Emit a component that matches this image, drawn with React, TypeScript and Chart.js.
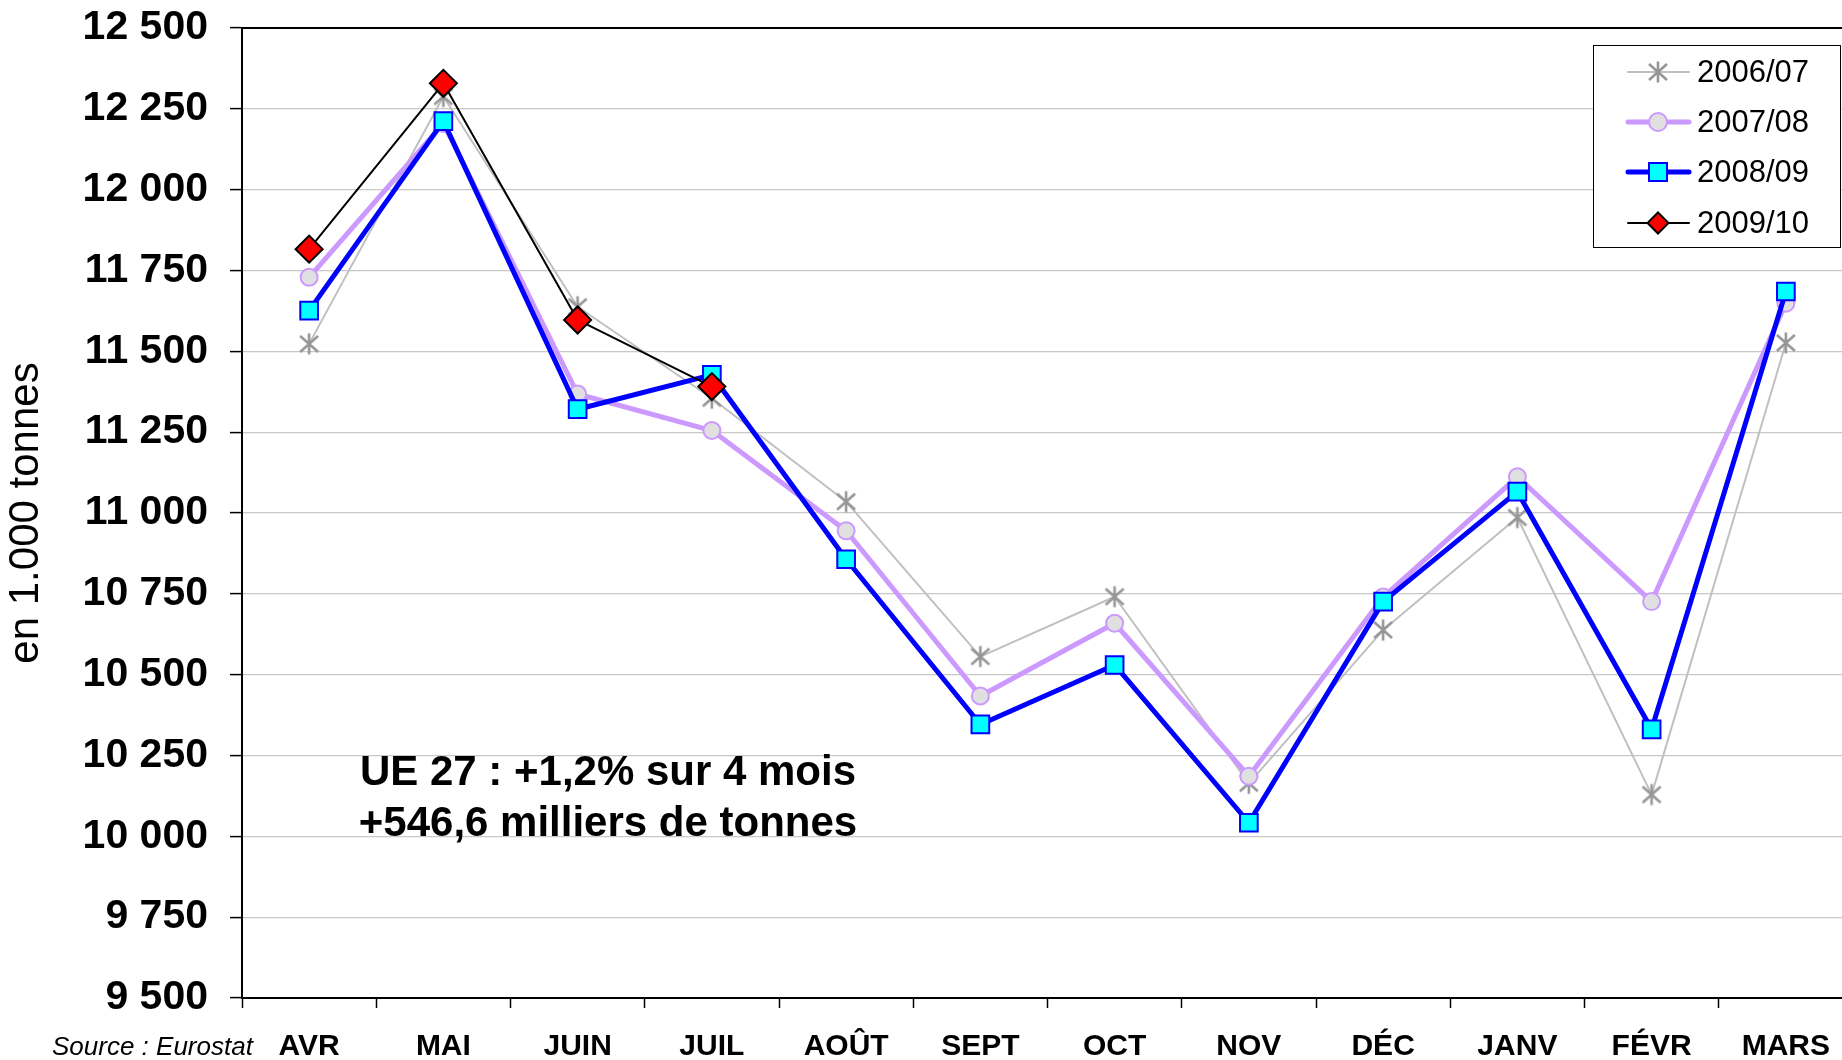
import React, { useEffect, useRef } from 'react';
import { Chart, registerables } from 'chart.js';

Chart.register(...registerables);

const months = ['AVR', 'MAI', 'JUIN', 'JUIL', 'AOÛT', 'SEPT', 'OCT', 'NOV', 'DÉC', 'JANV', 'FÉVR', 'MARS'];
const seriesNames = ['2006/07', '2007/08', '2008/09', '2009/10'];
const s2006 = [11523, 12288, 11638, 11355, 11035, 10556, 10741, 10164, 10638, 10986, 10129, 11526];
const s2007 = [11729, 12205, 11368, 11255, 10945, 10434, 10659, 10186, 10740, 11112, 10726, 11649];
const s2008 = [11626, 12212, 11321, 11427, 10857, 10346, 10530, 10042, 10726, 11066, 10331, 11685];
const s2009 = [11816, 12329, 11597, 11391, null, null, null, null, null, null, null, null];
const yMin = 9500;
const yMax = 12500;
const yStep = 250;
const noteLines = ['UE 27 : +1,2% sur 4 mois', '+546,6 milliers de tonnes'];
const sourceText = 'Source : Eurostat';
const yTitle = 'en 1.000 tonnes';

const FONT = '"Liberation Sans", Arial, Helvetica, sans-serif';

function makeAsterisk(): HTMLCanvasElement {
  const c = document.createElement('canvas');
  c.width = 24;
  c.height = 24;
  const g = c.getContext('2d')!;
  g.strokeStyle = '#969696';
  g.lineWidth = 2.6;
  g.beginPath();
  g.moveTo(12, 1.5);
  g.lineTo(12, 22.5);
  g.moveTo(3, 4);
  g.lineTo(21, 20);
  g.moveTo(3, 20);
  g.lineTo(21, 4);
  g.stroke();
  return c;
}

function fmt(v: number): string {
  return String(v).replace(/\B(?=(\d{3})+(?!\d))/g, ' ');
}

function zeroPad(scale: any) {
  scale.paddingTop = 0;
  scale.paddingBottom = 0;
  scale.paddingLeft = 0;
  scale.paddingRight = 0;
}

export default function App() {
  const ref = useRef<HTMLCanvasElement>(null);

  useEffect(() => {
    const canvas = ref.current!;
    const star = makeAsterisk();

    const overlay = {
      id: 'overlay',
      afterDraw(chart: any) {
        const ctx: CanvasRenderingContext2D = chart.ctx;
        const a = chart.chartArea;
        ctx.save();
        // top border of plot area
        ctx.strokeStyle = '#000';
        ctx.lineWidth = 2;
        ctx.beginPath();
        ctx.moveTo(a.left, a.top);
        ctx.lineTo(a.right, a.top);
        ctx.stroke();

        // annotation
        ctx.fillStyle = '#000';
        ctx.font = `bold 42px ${FONT}`;
        ctx.textAlign = 'center';
        ctx.textBaseline = 'alphabetic';
        ctx.fillText(noteLines[0], 608, 785);
        ctx.fillText(noteLines[1], 608, 836);

        // source
        ctx.font = `italic 26px ${FONT}`;
        ctx.textAlign = 'left';
        ctx.fillText(sourceText, 52, 1055);

        // legend
        const bx = 1593, by = 45, bw = 248, bh = 203;
        ctx.fillStyle = '#fff';
        ctx.fillRect(bx, by, bw, bh);
        ctx.strokeStyle = '#000';
        ctx.lineWidth = 1;
        ctx.strokeRect(bx + 0.5, by + 0.5, bw - 1, bh - 1);
        const rows = [72, 122, 172, 223];
        const ds = chart.data.datasets;
        seriesNames.forEach((name, i) => {
          const d = ds[i];
          const y = rows[i];
          ctx.strokeStyle = d.borderColor;
          ctx.lineWidth = d.borderWidth;
          ctx.lineCap = 'round';
          ctx.beginPath();
          ctx.moveTo(1628, y);
          ctx.lineTo(1689, y);
          ctx.stroke();
          ctx.lineCap = 'butt';
          const cx = 1658;
          if (i === 0) {
            ctx.drawImage(star, cx - star.width / 2, y - star.height / 2);
          } else if (i === 1) {
            ctx.beginPath();
            ctx.arc(cx, y, 9, 0, Math.PI * 2);
            ctx.fillStyle = d.pointBackgroundColor;
            ctx.fill();
            ctx.strokeStyle = d.pointBorderColor;
            ctx.lineWidth = 2;
            ctx.stroke();
          } else if (i === 2) {
            ctx.fillStyle = d.pointBackgroundColor;
            ctx.fillRect(cx - 9, y - 9, 18, 18);
            ctx.strokeStyle = d.pointBorderColor;
            ctx.lineWidth = 2;
            ctx.strokeRect(cx - 9, y - 9, 18, 18);
          } else {
            ctx.beginPath();
            ctx.moveTo(cx, y - 10.5);
            ctx.lineTo(cx + 10.5, y);
            ctx.lineTo(cx, y + 10.5);
            ctx.lineTo(cx - 10.5, y);
            ctx.closePath();
            ctx.fillStyle = d.pointBackgroundColor;
            ctx.fill();
            ctx.strokeStyle = d.pointBorderColor;
            ctx.lineWidth = 2;
            ctx.stroke();
          }
          ctx.fillStyle = '#000';
          ctx.font = `31px ${FONT}`;
          ctx.textAlign = 'left';
          ctx.textBaseline = 'middle';
          ctx.fillText(name, 1697, y + 1);
        });
        ctx.restore();
      },
    };

    const chart = new Chart(canvas, {
      type: 'line',
      data: {
        labels: months,
        datasets: [
          {
            label: seriesNames[0],
            data: s2006,
            borderColor: '#c0c0c0',
            borderWidth: 2,
            pointStyle: star as any,
            pointRadius: 10,
            order: 4,
          },
          {
            label: seriesNames[1],
            data: s2007,
            borderColor: '#cc99ff',
            borderWidth: 5,
            pointStyle: 'circle',
            pointRadius: 8.5,
            pointBackgroundColor: '#e0e0e0',
            pointBorderColor: '#cc99ff',
            pointBorderWidth: 2,
            order: 3,
          },
          {
            label: seriesNames[2],
            data: s2008,
            borderColor: '#0000ff',
            borderWidth: 5,
            pointStyle: 'rect',
            pointRadius: 12.5,
            pointBackgroundColor: '#00ffff',
            pointBorderColor: '#0000ff',
            pointBorderWidth: 2,
            order: 2,
          },
          {
            label: seriesNames[3],
            data: s2009,
            borderColor: '#000000',
            borderWidth: 2,
            pointStyle: 'rectRot',
            pointRadius: 13.5,
            pointBackgroundColor: '#ff0000',
            pointBorderColor: '#000000',
            pointBorderWidth: 2,
            order: 1,
          },
        ] as any,
      },
      options: {
        animation: false,
        responsive: false,
        maintainAspectRatio: false,
        events: [],
        layout: { autoPadding: false, padding: { top: 28, left: 0, right: 0, bottom: 0 } },
        elements: { line: { tension: 0, borderJoinStyle: 'round' } },
        plugins: {
          legend: { display: false },
          tooltip: { enabled: false },
          title: { display: false },
        },
        scales: {
          x: {
            type: 'category',
            offset: true,
            grid: {
              offset: true,
              drawOnChartArea: false,
              drawTicks: true,
              tickLength: 10,
              tickColor: '#000',
              tickWidth: 1.5,
            },
            border: { color: '#000', width: 2 },
            ticks: {
              color: '#000',
              font: { family: FONT, size: 30, weight: 'bold', lineHeight: 1.2 },
              padding: 21,
              maxRotation: 0,
              autoSkip: false,
            },
            afterFit(scale: any) {
              scale.height = 62;
              zeroPad(scale);
            },
          },
          y: {
            min: yMin,
            max: yMax,
            grid: {
              color: '#c8c8c8',
              lineWidth: 1.2,
              tickLength: 12,
              tickColor: '#000',
              tickWidth: 1.5,
            },
            border: { color: '#000', width: 2 },
            ticks: {
              stepSize: yStep,
              color: '#000',
              padding: 22,
              font: { family: FONT, size: 41, weight: 'bold' },
              callback: (v: any) => fmt(Number(v)),
            },
            title: {
              display: true,
              text: yTitle,
              color: '#000',
              font: { family: FONT, size: 42, lineHeight: 1 },
              padding: { top: 5, bottom: 0 },
            },
            afterFit(scale: any) {
              scale.width = 242;
              zeroPad(scale);
            },
          },
        },
      },
      plugins: [overlay],
    } as any);

    return () => chart.destroy();
  }, []);

  return (
    <div
      style={{
        position: 'fixed',
        left: 0,
        top: 0,
        width: 1842,
        height: 1060,
        overflow: 'hidden',
        background: '#fff',
      }}
    >
      <canvas ref={ref} width={1853} height={1060} style={{ display: 'block', width: 1853, height: 1060 }} />
    </div>
  );
}
